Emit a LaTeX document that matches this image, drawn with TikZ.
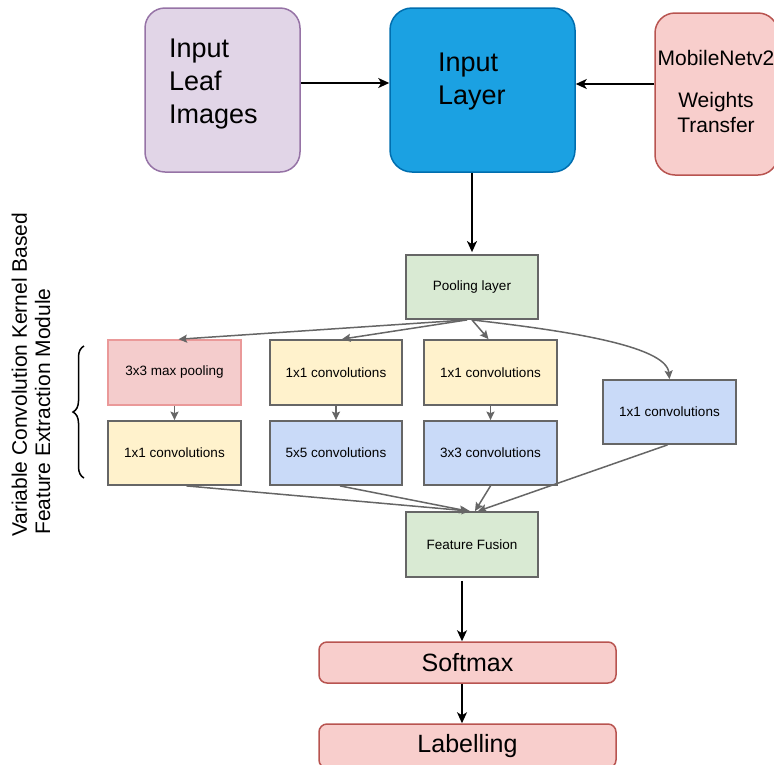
\documentclass[tikz,border=0pt]{standalone}
\usepackage{fontspec}
\setmainfont{Liberation Sans}
\usetikzlibrary{arrows.meta,decorations.pathreplacing,calc}

\newcommand\fsz[2]{\fontsize{#1}{#2}\selectfont}

\definecolor{leafFill}{HTML}{E1D5E7}
\definecolor{leafLine}{HTML}{9673A6}
\definecolor{inFill}{HTML}{1BA1E2}
\definecolor{inLine}{HTML}{006EAF}
\definecolor{redFill}{HTML}{F8CECC}
\definecolor{redLine}{HTML}{B85450}
\definecolor{greenFill}{HTML}{D9EAD3}
\definecolor{mpFill}{HTML}{F4CCCC}
\definecolor{mpLine}{HTML}{EA9999}
\definecolor{yelFill}{HTML}{FFF2CC}
\definecolor{bluFill}{HTML}{C9DAF8}
\definecolor{grayLine}{HTML}{666666}

\begin{document}
\begin{tikzpicture}[x=1pt,y=-1pt,
  bigbox/.style={draw, rounded corners=20pt, line width=1.5pt, inner sep=0pt},
  layerbox/.style={draw=grayLine, line width=1.8pt, inner sep=0pt,
    minimum width=133pt, minimum height=64pt, font=\fsz{13.5}{16}},
  headbox/.style={draw=redLine, fill=redFill, rounded corners=8pt, line width=1.5pt,
    minimum width=297pt, font=\fsz{25}{30}},
  blk/.style={draw=black, line width=1.6pt, -{Stealth[length=11pt,width=10pt,inset=3pt]}},
  gry/.style={draw=grayLine, line width=1.5pt, -{Stealth[length=8.5pt,width=8pt,inset=1.5pt]}},
  txt/.style={inner sep=0pt}
]
\useasboundingbox (0,0) rectangle (774,764);
\clip (0,0) rectangle (774,764);

% --- input stage ---
\node[bigbox, draw=leafLine, fill=leafFill, minimum width=155pt, minimum height=164pt] (leaf) at (222.5,90) {};
\node[txt, align=left, anchor=west, font=\fsz{27}{33}] (leaft) at (169,84) {Input\\Leaf\\Images};

\node[bigbox, draw=inLine, fill=inFill, rounded corners=22pt, minimum width=185pt, minimum height=164pt] (inl) at (482.5,90) {};
\node[txt, align=left, anchor=west, font=\fsz{27}{33}] (inlt) at (438,82) {Input\\Layer};

\node[bigbox, draw=redLine, fill=redFill, minimum width=123pt, minimum height=162pt] (mob) at (716.5,94) {};
\node[txt, align=center, font=\fsz{21}{25}] (mobt) at (716,91) {MobileNetv2\\[17pt]Weights\\Transfer};

\draw[blk] ([yshift=7pt]leaf.east) -- ([yshift=7pt]leaf.east -| inl.west);
\draw[blk] ([yshift=10pt]mob.west) -- ([yshift=10pt]mob.west -| inl.east);

% --- feature extraction module ---
\node[layerbox, fill=greenFill, minimum width=132pt] (pool) at (472,287) {Pooling layer};
\draw[blk] (inl.south -| pool.north) -- ([yshift=2pt]pool.north);

\node[layerbox, draw=mpLine, line width=1.5pt, fill=mpFill, minimum height=65pt] (mp) at (174.5,372.5) {3x3 max pooling};
\node[layerbox, fill=yelFill, minimum width=132pt, minimum height=65pt] (ca) at (336,372.5) {1x1 convolutions};
\node[layerbox, fill=yelFill, minimum height=65pt] (cb) at (490.5,372.5) {1x1 convolutions};
\node[layerbox, fill=bluFill] (cc) at (669.5,412) {1x1 convolutions};

\node[layerbox, fill=yelFill] (c1) at (174.5,453) {1x1 convolutions};
\node[layerbox, fill=bluFill, minimum width=132pt] (c5) at (336,453) {5x5 convolutions};
\node[layerbox, fill=bluFill] (c3) at (490.5,453) {3x3 convolutions};

\node[layerbox, fill=greenFill, minimum width=132pt, minimum height=65pt] (fus) at (472,544.5) {Feature Fusion};

% branches out of the pooling layer
\draw[gry] ([xshift=-5pt]pool.south) -- ([xshift=4pt]mp.north);
\draw[gry] ([xshift=-5pt]pool.south) -- ([xshift=6pt]ca.north);
\draw[gry] (pool.south) -- ([xshift=-2pt]cb.north);
\draw[gry] (pool.south) .. controls (560,330) and (666,345) .. (cc.north);

% inside the branches
\draw[gry] (mp.south) -- (c1.north);
\draw[gry] (ca.south) -- (c5.north);
\draw[gry] (cb.south) -- (c3.north);

% branches into the fusion
\draw[gry] ([xshift=12pt]c1.south) -- ([xshift=-2pt]fus.north);
\draw[gry] ([xshift=4pt]c5.south) -- ([xshift=-4pt]fus.north);
\draw[gry] (c3.south) -- ([xshift=3pt]fus.north);
\draw[gry] ([xshift=-2pt]cc.south) -- ([xshift=6pt]fus.north);

% brace and module label
\coordinate (braceBot) at (84,478);
\coordinate (braceTop) at (84,346);
\draw[line width=1.5pt, decorate, decoration={brace, amplitude=11pt}] (braceBot) -- (braceTop);
\node[txt, rotate=90, anchor=base west, font=\fsz{21}{23}] (modA) at (27,537) {Variable Convolution Kernel Based};
\node[txt, rotate=90, anchor=base west, font=\fsz{21}{23}] (modB) at (50,535) {Feature Extraction Module};

% --- classification head ---
\node[headbox, minimum height=41pt] (soft) at (467.5,662.5) {Softmax};
\node[headbox, minimum height=44pt] (lab) at (467.5,746) {Labelling};

\draw[blk] ([xshift=-10pt,yshift=-3pt]fus.south) -- ([xshift=-10pt]fus.south |- soft.north);
\draw[blk] ([xshift=-5.5pt]soft.south) -- ([xshift=-5.5pt]soft.south |- lab.north);
\end{tikzpicture}
\end{document}
